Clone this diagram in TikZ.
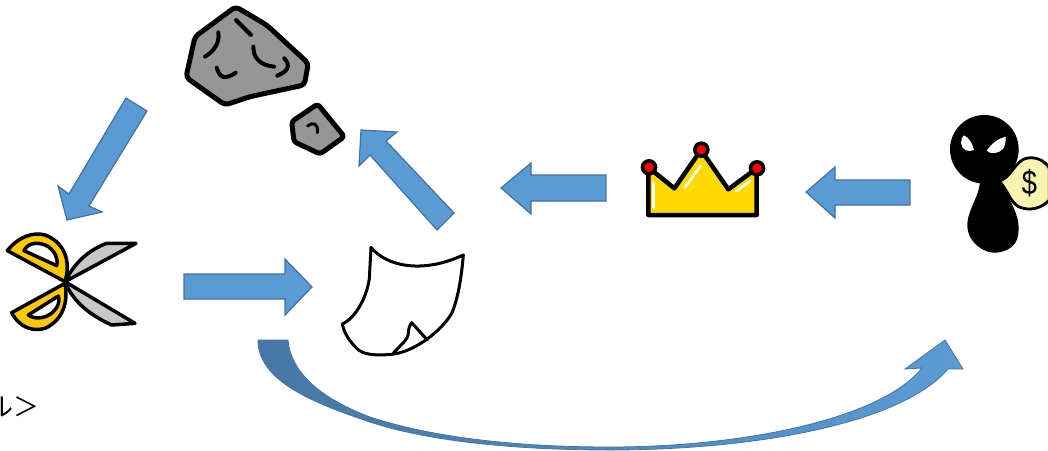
\documentclass[tikz,border=0pt]{standalone}
\usepackage{fontspec}
\newfontfamily\cjk{Noto Sans CJK JP}
\newfontfamily\dollarfont{Liberation Sans}
\definecolor{arrowblue}{HTML}{5B9BD5}
\definecolor{arrowdark}{HTML}{41719C}
\definecolor{curveleft}{HTML}{4677A6}
\definecolor{curvemid}{HTML}{4A80B4}
\definecolor{rock}{HTML}{969696}
\definecolor{gold}{HTML}{FFD900}
\definecolor{scissorgold}{HTML}{FFC800}
\definecolor{blade}{HTML}{C8C8C8}
\definecolor{bag}{HTML}{F7F3B0}
\tikzset{
  blockarrow/.style={fill=arrowblue,draw=arrowdark,line width=1.2pt,line join=miter},
  ink/.style={draw=black,line width=5pt,line join=round,line cap=round},
  scissorink/.style={draw=black,line width=3.5pt,line join=round,line cap=round},
  thinink/.style={draw=black,line width=3pt,line join=round,line cap=round},
  rockmark/.style={draw=black,line width=4pt,line cap=round},
  shine/.style={draw=white,line width=2.6pt,line cap=round}
}
\begin{document}
\begin{tikzpicture}[x=1pt,y=-1pt]
\useasboundingbox (0,0) rectangle (1048,450);
\clip (0,0) rectangle (1048,450);
% block arrows
\path[blockarrow] (126,98) -- (147,111) -- (89,206) -- (102,212) -- (67,220) -- (58,186) -- (69,194) -- cycle;
\path[blockarrow] (184,274) -- (285,274) -- (285,259) -- (312,287) -- (285,315) -- (285,299) -- (184,299) -- cycle;
\path[blockarrow] (454,213) -- (386,141) -- (397,132) -- (361,130) -- (359,166) -- (370,155) -- (437,230) -- cycle;
\path[blockarrow] (606,175) -- (531,175) -- (531,163) -- (501,188) -- (531,214) -- (531,201) -- (606,201) -- cycle;
\path[blockarrow] (910,180) -- (835,180) -- (835,167) -- (806,192) -- (835,218) -- (835,205) -- (910,205) -- cycle;
% curved arrow
\shade[left color=curveleft,middle color=curvemid,right color=arrowblue,draw=arrowdark!90!arrowblue,line width=.8pt]
 (258,340) -- (288,340) .. controls (291,375) and (325,400) .. (370,417)
 .. controls (440,440) and (530,447) .. (610,447)
 .. controls (740,447) and (880,420) .. (922,368) -- (905,369) -- (945,340) -- (963,369) -- (948,369)
 .. controls (900,425) and (750,450) .. (610,450)
 .. controls (520,450) and (430,442) .. (370,422)
 .. controls (310,402) and (258,380) .. (258,340) -- cycle;
% rock
\begin{scope}[shift={(170,0)},scale=1/3]
\draw[ink,fill=rock,rounded corners=4pt] (197,20) -- (290,75) -- (415,190) -- (403,255) -- (240,290) -- (165,315) -- (48,232) -- (75,110) -- cycle;
\draw[rockmark] (145,97) .. controls (150,130) and (130,155) .. (105,170);
\draw[rockmark] (198,60) -- (243,105);
\draw[rockmark] (250,140) .. controls (250,175) and (270,195) .. (312,200);
\draw[rockmark] (343,175) .. controls (365,200) and (350,215) .. (322,227);
\draw[rockmark] (140,203) .. controls (150,235) and (165,240) .. (197,218);
\draw[ink,fill=rock,rounded corners=3pt] (443,312) -- (523,410) -- (450,462) -- (372,425) -- (365,365) -- cycle;
\draw[rockmark,line width=3pt] (413,378) .. controls (430,365) and (445,370) .. (442,398);
\end{scope}
% scissors
\begin{scope}[shift={(0,220)},scale=1/3]
\draw[scissorink,fill=blade] (195,185) .. controls (230,115) and (280,85) .. (320,70) -- (408,70) -- cycle;
\draw[scissorink,fill=blade] (195,185) -- (405,310) -- (335,315) .. controls (280,290) and (220,250) .. (195,185) -- cycle;
\draw[scissorink,fill=scissorgold,even odd rule] (195,185) -- (22,92) .. controls (55,50) and (100,35) .. (135,45) .. controls (190,65) and (215,120) .. (195,185) -- cycle
 (170,137) -- (72,92) .. controls (85,65) and (120,65) .. (145,80) .. controls (165,95) and (175,115) .. (170,137) -- cycle;
\draw[scissorink,fill=scissorgold,even odd rule] (195,190) -- (35,278) .. controls (60,325) and (100,335) .. (135,325) .. controls (190,300) and (205,245) .. (195,190) -- cycle
 (175,228) -- (85,285) .. controls (105,300) and (140,295) .. (160,275) .. controls (175,260) and (180,245) .. (175,228) -- cycle;
\end{scope}
% paper
\begin{scope}[shift={(330,235)},scale=1/3]
\draw[thinink,fill=white] (123,37) .. controls (165,90) and (270,120) .. (400,60)
 .. controls (395,120) and (385,190) .. (365,235) .. controls (340,280) and (260,350) .. (185,358)
 .. controls (135,362) and (100,360) .. (80,340) .. controls (60,320) and (42,295) .. (37,267)
 .. controls (75,250) and (110,190) .. (118,130) -- cycle;
\draw[thinink] (190,355) .. controls (205,335) and (235,315) .. (235,295) .. controls (235,280) and (240,270) .. (245,263) -- (292,315);
\end{scope}
% crown
\begin{scope}[shift={(630,130)},scale=1/3]
\draw[draw=black,line width=4.5pt,line join=round,fill=gold] (55,255) -- (55,112) -- (133,175) -- (213,60) -- (295,178) -- (380,115) -- (380,255) -- cycle;
\draw[shine] (71,158) -- (71,233);
\draw[shine] (165,172) -- (212,108);
\draw[shine] (318,184) -- (360,153);
\foreach \p/\q in {c1/{(57,112)},c2/{(214,59)},c3/{(381,115)}}
  \node[circle,fill=red,draw=black,line width=3.6pt,inner sep=0pt,minimum size=13pt] (\p) at \q {};
\end{scope}
% thief
\begin{scope}[shift={(930,100)},scale=1/3]
\fill[black] (150,240) .. controls (150,290) and (110,330) .. (112,380) .. controls (115,430) and (165,462) .. (200,458) .. controls (255,450) and (270,420) .. (265,370) .. controls (258,320) and (225,290) .. (225,240) -- cycle;
\fill[black] (163,148) circle [radius=103];
\fill[white] (101,106) .. controls (115,110) and (128,130) .. (132,150) .. controls (115,158) and (95,150) .. (93,130) .. controls (93,120) and (96,110) .. (101,106) -- cycle;
\fill[white] (227,110) .. controls (205,115) and (185,130) .. (170,152) .. controls (180,165) and (210,160) .. (220,145) .. controls (226,135) and (228,120) .. (227,110) -- cycle;
\draw[fill=bag,draw=black,line width=2.8pt,line join=round] (207,243) .. controls (240,235) and (250,195) .. (280,178) .. controls (310,165) and (345,180) .. (358,205) -- (358,300) .. controls (335,325) and (300,335) .. (265,320) .. controls (240,305) and (230,265) .. (207,243) -- cycle;
\node[font=\dollarfont\fontsize{34}{34}\selectfont,inner sep=0pt,xscale=.8] (dollar) at (298,248) {\$};
\end{scope}
% clipped text
\node[font=\cjk\fontsize{26}{26}\selectfont,anchor=east,inner sep=0pt] (caption) at (40,407) {ル＞};
\end{tikzpicture}
\end{document}
